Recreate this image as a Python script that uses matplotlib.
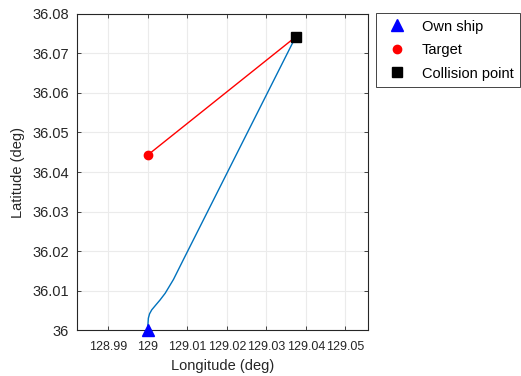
import matplotlib
matplotlib.use("Agg")
import matplotlib.pyplot as plt
from matplotlib.lines import Line2D

# Data
own_lon = [129.0, 129.0, 129.00015, 129.00045, 129.001, 129.002, 129.0031, 129.0044, 129.0065, 129.009, 129.0374]
own_lat = [36.0, 36.0008, 36.003, 36.0041, 36.0051, 36.0063, 36.0076, 36.0093, 36.0128, 36.0178, 36.0742]
tgt_lon = [129.0, 129.0374]
tgt_lat = [36.0443, 36.0742]
collision = (129.0374, 36.0742)
xticks = [128.99, 129.0, 129.01, 129.02, 129.03, 129.04, 129.05]
xticklabels = ["128.99", "129", "129.01", "129.02", "129.03", "129.04", "129.05"]
yticks = [36.0, 36.01, 36.02, 36.03, 36.04, 36.05, 36.06, 36.07, 36.08]
yticklabels = ["36", "36.01", "36.02", "36.03", "36.04", "36.05", "36.06", "36.07", "36.08"]

plt.rcParams['font.family'] = ['Liberation Sans', 'DejaVu Sans']
fig = plt.figure(figsize=(5.21, 3.76), dpi=100)
ax = fig.add_axes([0.1478, 0.1223, 0.7063 - 0.1478, 0.9628 - 0.1223])

blue = '#0072BD'
fs = 10.5
ax.plot(own_lon, own_lat, color=blue, lw=1.0, zorder=3)
ax.plot(tgt_lon, tgt_lat, color='red', lw=1.0, zorder=3)
ax.plot(own_lon[0], own_lat[0], marker='^', color='blue', ms=9, ls='none', zorder=5, clip_on=False)
ax.plot(tgt_lon[0], tgt_lat[0], marker='o', color='red', ms=6, ls='none', zorder=5)
ax.plot(collision[0], collision[1], marker='s', color='black', ms=7, ls='none', zorder=5)

ax.set_xlim(128.9821, 129.0557)
ax.set_ylim(36.0, 36.08)
ax.set_xticks(xticks)
ax.set_xticklabels(xticklabels)
ax.set_yticks(yticks)
ax.set_yticklabels(yticklabels)
ax.tick_params(direction='in', top=True, right=True, length=3, width=0.6, colors='#262626', labelsize=fs)
ax.tick_params(axis='x', pad=8, labelsize=9)
ax.tick_params(axis='y', pad=6)
ax.grid(True, color='#ebebeb', lw=0.8)
ax.set_axisbelow(True)
for s in ax.spines.values():
    s.set_color('#262626')
    s.set_linewidth(0.8)
ax.set_xlabel('Longitude (deg)', fontsize=fs, color='#262626', labelpad=4)
ax.set_ylabel('Latitude (deg)', fontsize=fs, color='#262626', labelpad=5)

handles = [
    Line2D([], [], marker='^', color='blue', ls='none', ms=9),
    Line2D([], [], marker='o', color='red', ls='none', ms=6),
    Line2D([], [], marker='s', color='black', ls='none', ms=7),
]
leg = fig.legend(handles, ['Own ship', 'Target', 'Collision point'], loc='upper left',
                 bbox_to_anchor=(0.7217, 0.9654), bbox_transform=fig.transFigure,
                 fancybox=False, framealpha=1, edgecolor='#262626', fontsize=fs,
                 borderpad=0.45, labelspacing=0.65, handlelength=2.0, handletextpad=0.7,
                 borderaxespad=0)
leg.get_frame().set_linewidth(0.6)

fig.savefig('out.png', dpi=100)
